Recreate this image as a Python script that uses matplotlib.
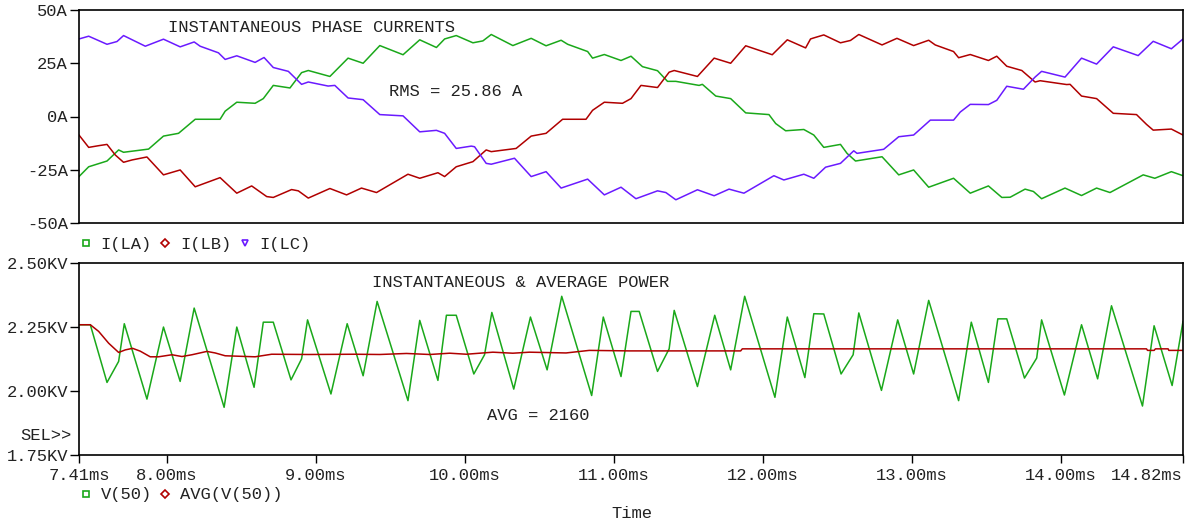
import matplotlib
matplotlib.use("Agg")
import matplotlib.pyplot as plt
from matplotlib.lines import Line2D

plt.rcParams['font.family'] = ['Liberation Mono', 'DejaVu Sans Mono']
plt.rcParams['font.size'] = 12.3

# ---- data ----
# phase current I(LA)  (time in ms, current in A)
t_la = [7.41, 7.475, 7.598, 7.676, 7.709, 7.877, 7.977, 8.078, 8.190, 8.357, 8.391, 8.469, 8.592, 8.647,
        8.714, 8.826, 8.904, 8.949, 9.094, 9.216, 9.317, 9.429, 9.585, 9.697, 9.809, 9.864, 9.942, 10.054,
        10.121, 10.177, 10.322, 10.445, 10.545, 10.646, 10.690, 10.824, 10.857, 10.936, 11.048, 11.115,
        11.192, 11.293, 11.360, 11.416, 11.572, 11.594, 11.684, 11.784, 11.885, 12.041, 12.086, 12.153,
        12.275, 12.342, 12.409, 12.521, 12.565, 12.622, 12.800, 12.912, 13.012, 13.113, 13.280, 13.392,
        13.514, 13.604, 13.660, 13.760, 13.816, 13.871, 14.028, 14.139, 14.240, 14.330, 14.553, 14.631,
        14.742, 14.82]
i_la = [-28.2, -23.6, -20.9, -15.7, -16.8, -15.3, -9.2, -7.9, -1.3, -1.3, 2.5, 6.7, 6.2, 8.4,
        14.6, 13.4, 20.6, 21.6, 18.8, 27.4, 25.0, 33.3, 29.0, 36.0, 32.4, 36.4, 38.0, 34.6,
        35.5, 38.5, 33.3, 36.7, 33.2, 35.8, 33.9, 30.5, 27.4, 29.1, 26.3, 28.3,
        23.4, 21.5, 16.5, 16.5, 14.6, 15.1, 9.6, 8.4, 1.7, 0.9, -3.3, -6.7,
        -6.1, -8.7, -14.5, -13.1, -17.3, -20.9, -18.9, -27.4, -25.1, -33.2, -29.0, -36.0,
        -32.6, -38.0, -37.9, -34.1, -35.2, -38.6, -33.6, -37.1, -33.6, -35.7, -27.4, -29.0,
        -25.9, -27.8]

# phase current I(LB)
t_lb = [7.41, 7.475, 7.542, 7.598, 7.654, 7.709, 7.766, 7.866, 7.977, 8.089, 8.190, 8.357, 8.469, 8.569,
        8.670, 8.714, 8.837, 8.882, 8.949, 9.094, 9.206, 9.306, 9.407, 9.618, 9.697, 9.819, 9.864, 9.942,
        10.054, 10.143, 10.177, 10.344, 10.445, 10.545, 10.656, 10.813, 10.857, 10.936, 11.058, 11.115,
        11.182, 11.293, 11.371, 11.405, 11.561, 11.673, 11.784, 11.885, 12.063, 12.164, 12.287, 12.320,
        12.342, 12.409, 12.521, 12.588, 12.644, 12.800, 12.900, 13.012, 13.113, 13.157, 13.280, 13.314,
        13.392, 13.514, 13.570, 13.637, 13.738, 13.827, 13.861, 14.039, 14.062, 14.139, 14.240, 14.352,
        14.508, 14.575, 14.620, 14.742, 14.82]
i_lb = [-8.7, -14.5, -13.7, -13.1, -18.1, -21.5, -20.4, -19.0, -27.4, -25.1, -33.0, -28.7, -36.0, -32.6,
        -37.6, -38.0, -34.3, -34.9, -38.3, -33.8, -36.8, -33.6, -35.7, -27.1, -29.0, -26.4, -28.2, -23.6,
        -21.2, -15.7, -16.5, -15.0, -9.2, -7.9, -1.3, -1.3, 2.9, 6.7, 6.2, 8.4,
        14.6, 13.6, 20.8, 21.6, 18.8, 27.4, 25.0, 33.2, 29.0, 36.0, 32.2, 36.4,
        36.9, 38.3, 34.6, 35.7, 38.5, 33.6, 36.7, 33.3, 35.8, 33.6, 30.5, 27.6,
        29.1, 26.3, 28.3, 23.6, 21.6, 16.2, 16.8, 15.0, 15.1, 9.6, 8.4, 1.5,
        0.9, -3.7, -6.4, -5.9, -8.7]

# phase current I(LC)
t_lc = [7.41, 7.475, 7.598, 7.665, 7.709, 7.855, 7.977, 8.089, 8.183, 8.223, 8.346, 8.391, 8.469, 8.592,
        8.652, 8.714, 8.815, 8.904, 8.949, 9.082, 9.127, 9.216, 9.317, 9.429, 9.585, 9.697, 9.809, 9.864,
        9.942, 10.043, 10.065, 10.143, 10.177, 10.333, 10.445, 10.545, 10.646, 10.824, 10.936, 11.048,
        11.148, 11.293, 11.349, 11.416, 11.561, 11.673, 11.773, 11.873, 12.074, 12.141, 12.275, 12.342,
        12.421, 12.521, 12.610, 12.632, 12.811, 12.912, 13.012, 13.124, 13.280, 13.325, 13.392, 13.514,
        13.570, 13.637, 13.749, 13.827, 13.871, 14.028, 14.139, 14.240, 14.352, 14.519, 14.620, 14.742,
        14.82]
i_lc = [36.4, 37.7, 33.9, 35.2, 38.0, 33.0, 36.3, 32.7, 35.0, 33.0, 29.9, 26.8, 28.5, 25.4,
        27.7, 23.0, 21.2, 15.1, 16.2, 14.3, 14.6, 8.7, 7.9, 0.9, 0.3, -7.2, -6.5, -7.9,
        -15.0, -13.9, -14.2, -22.0, -22.4, -19.6, -28.2, -25.9, -33.6, -29.4, -36.8, -33.2,
        -38.6, -34.9, -35.7, -39.1, -34.4, -37.2, -34.1, -36.0, -27.8, -29.8, -27.1, -29.0,
        -23.8, -22.0, -16.1, -17.3, -15.4, -9.5, -8.7, -1.7, -1.7, 2.1, 5.7, 5.6,
        7.6, 14.2, 12.8, 18.5, 21.2, 18.5, 27.4, 24.6, 32.7, 28.6, 35.3, 31.8,
        36.4]

# instantaneous power V(50) in kV
t_v50 = [7.41, 7.486, 7.598, 7.676, 7.714, 7.866, 7.977, 8.089, 8.183, 8.384, 8.469, 8.585, 8.647, 8.714,
         8.833, 8.904, 8.944, 9.101, 9.210, 9.317, 9.411, 9.618, 9.697, 9.819, 9.876, 9.942, 10.060,
         10.132, 10.181, 10.328, 10.440, 10.552, 10.650, 10.851, 10.929, 11.048, 11.115, 11.170, 11.293,
         11.371, 11.405, 11.561, 11.677, 11.784, 11.878, 12.081, 12.164, 12.282, 12.342, 12.409, 12.525,
         12.606, 12.644, 12.796, 12.905, 13.012, 13.113, 13.314, 13.399, 13.514, 13.577, 13.637, 13.756,
         13.838, 13.871, 14.024, 14.139, 14.247, 14.340, 14.548, 14.626, 14.747, 14.82]
v50 = [2.258, 2.258, 2.033, 2.115, 2.262, 1.968, 2.249, 2.037, 2.323, 1.936, 2.249, 2.014, 2.268, 2.268,
       2.043, 2.125, 2.277, 1.988, 2.262, 2.059, 2.349, 1.962, 2.275, 2.041, 2.295, 2.295, 2.066,
       2.141, 2.306, 2.007, 2.288, 2.082, 2.369, 1.982, 2.288, 2.056, 2.310, 2.310, 2.076,
       2.164, 2.314, 2.017, 2.295, 2.082, 2.369, 1.975, 2.288, 2.052, 2.301, 2.300, 2.066,
       2.141, 2.304, 2.002, 2.277, 2.066, 2.353, 1.962, 2.268, 2.033, 2.281, 2.281, 2.050,
       2.128, 2.277, 1.984, 2.258, 2.047, 2.332, 1.941, 2.254, 2.021, 2.271]

# running average AVG(V(50)) in kV
t_avg = [7.41, 7.486, 7.542, 7.609, 7.676, 7.721, 7.770, 7.821, 7.888, 7.944, 8.034, 8.101, 8.168, 8.268,
         8.324, 8.391, 8.592, 8.703, 8.949, 9.261, 9.429, 9.608, 9.764, 9.898, 10.010, 10.188, 10.322,
         10.433, 10.679, 10.835, 11.103, 11.851, 11.862, 14.575, 14.582, 14.626, 14.635, 14.720, 14.725,
         14.82]
v_avg = [2.258, 2.258, 2.232, 2.186, 2.150, 2.160, 2.166, 2.155, 2.133, 2.133, 2.141, 2.134, 2.141, 2.154,
         2.148, 2.137, 2.133, 2.143, 2.142, 2.143, 2.142, 2.146, 2.142, 2.147, 2.143, 2.151, 2.147,
         2.151, 2.148, 2.158, 2.156, 2.156, 2.164, 2.164, 2.158, 2.158, 2.164, 2.164, 2.158,
         2.158]

i_ticks = [-50, -25, 0, 25, 50]
i_ticklabels = ['-50A', '-25A', '0A', '25A', '50A']
v_ticks = [1.75, 2.00, 2.25, 2.50]
v_ticklabels = ['1.75KV', '2.00KV', '2.25KV', '2.50KV']
t_ticks = [7.41, 8.0, 9.0, 10.0, 11.0, 12.0, 13.0, 14.0, 14.82]
t_ticklabels = ['7.41ms', '8.00ms', '9.00ms', '10.00ms', '11.00ms', '12.00ms', '13.00ms', '14.00ms', '14.82ms']

GREEN = '#1aa81a'
RED = '#b00000'
PURPLE = '#6a1aff'
TXT = '#222222'

W, H = 1190, 524


def fx(px):
    return px / W


def fy(py):
    return 1 - py / H


fig = plt.figure(figsize=(W / 100, H / 100), dpi=100)
ax1 = fig.add_axes([fx(79), fy(223), fx(1183) - fx(79), fy(10) - fy(223)])
ax2 = fig.add_axes([fx(79), fy(455), fx(1183) - fx(79), fy(262.7) - fy(455)])

for ax in (ax1, ax2):
    ax.set_xlim(7.41, 14.82)
    for s in ax.spines.values():
        s.set_linewidth(1.2)
    ax.tick_params(axis='y', direction='out', length=6.5, width=1.0, pad=1.5, labelcolor=TXT)

ax1.plot(t_la, i_la, color=GREEN, lw=1.1)
ax1.plot(t_lb, i_lb, color=RED, lw=1.1)
ax1.plot(t_lc, i_lc, color=PURPLE, lw=1.1)
ax1.set_ylim(-50, 50)
ax1.set_yticks(i_ticks)
ax1.set_yticklabels(i_ticklabels)
ax1.tick_params(axis='x', bottom=False, labelbottom=False)

ax2.plot(t_v50, v50, color=GREEN, lw=1.1)
ax2.plot(t_avg, v_avg, color=RED, lw=1.1)
ax2.set_ylim(1.75, 2.50)
ax2.set_yticks(v_ticks)
ax2.set_yticklabels(v_ticklabels)
ax2.set_xticks(t_ticks)
ax2.set_xticklabels(t_ticklabels)
ax2.tick_params(axis='x', direction='out', length=6, width=1.0, pad=3, labelcolor=TXT)
# last label sits flush against the right end of the axis
ax2.get_xticklabels()[-1].set_horizontalalignment('right')

# annotations
fig.text(fx(168), fy(27.5), 'INSTANTANEOUS PHASE CURRENTS', va='center', color=TXT)
fig.text(fx(389), fy(91.5), 'RMS = 25.86 A', va='center', color=TXT)
fig.text(fx(371.5), fy(282.5), 'INSTANTANEOUS & AVERAGE POWER', va='center', color=TXT)
fig.text(fx(487), fy(415.5), 'AVG = 2160', va='center', color=TXT)
fig.text(fx(72), fy(436), 'SEL>>', va='center', ha='right', color=TXT)
fig.text(fx(632), fy(513), 'Time', va='center', ha='center', color=TXT)

# legends
mk = dict(linestyle='none', markersize=5, markerfacecolor='none', markeredgewidth=1.2)
h_top = [Line2D([], [], marker='s', color=GREEN, **mk),
         Line2D([], [], marker='D', color=RED, markersize=4.5, linestyle='none',
                markerfacecolor='none', markeredgewidth=1.2),
         Line2D([], [], marker='v', color=PURPLE, **mk)]
leg1 = fig.legend(h_top, ['I(LA)', 'I(LB)', 'I(LC)'], loc='center left',
                  bbox_to_anchor=(fx(77.5), fy(244.5)), ncol=3, frameon=False,
                  handlelength=1.0, handletextpad=0.35, columnspacing=0.3,
                  borderpad=0, borderaxespad=0, labelcolor=TXT)
h_bot = [Line2D([], [], marker='s', color=GREEN, **mk),
         Line2D([], [], marker='D', color=RED, markersize=4.5, linestyle='none',
                markerfacecolor='none', markeredgewidth=1.2)]
leg2 = fig.legend(h_bot, ['V(50)', 'AVG(V(50))'], loc='center left',
                  bbox_to_anchor=(fx(77.5), fy(495)), ncol=2, frameon=False,
                  handlelength=1.0, handletextpad=0.35, columnspacing=0.3,
                  borderpad=0, borderaxespad=0, labelcolor=TXT)

fig.savefig('out.png', dpi=100)
